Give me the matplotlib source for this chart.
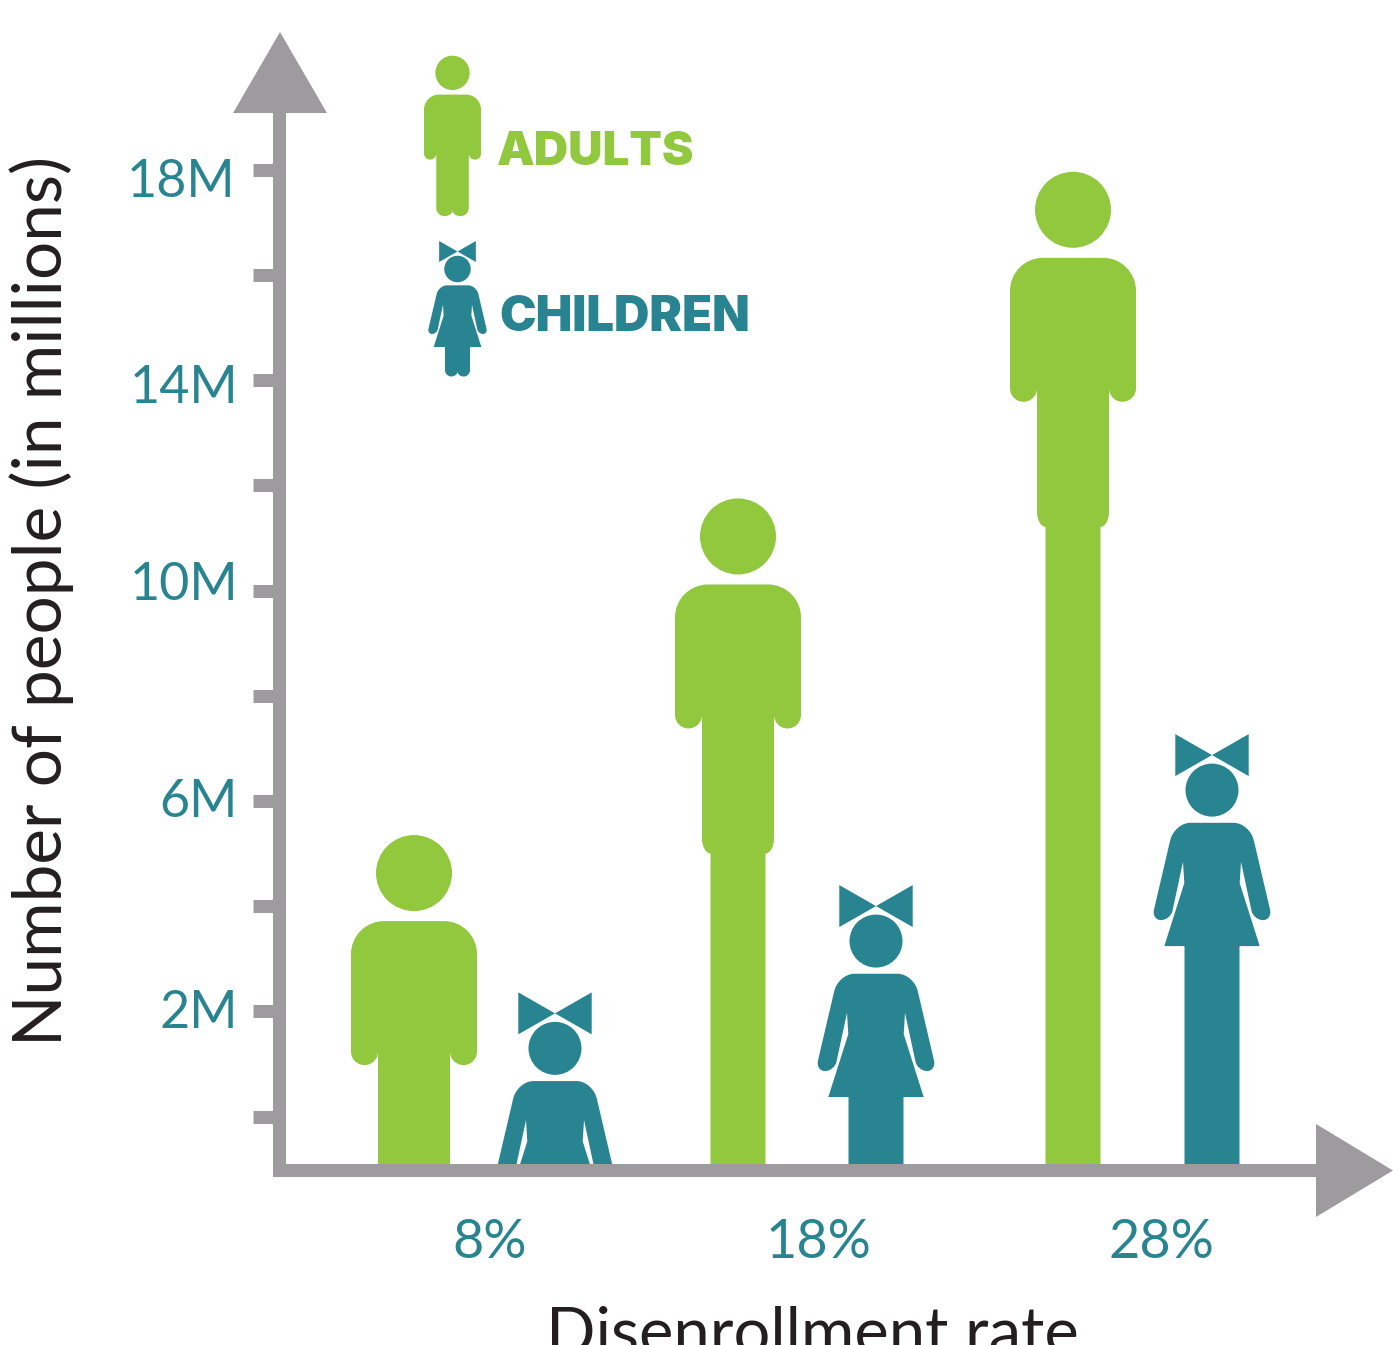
import matplotlib
matplotlib.use('Agg')
import matplotlib.pyplot as plt
from matplotlib.path import Path
from matplotlib.patches import PathPatch, Polygon
from matplotlib.transforms import Affine2D, ScaledTranslation

# values
rates = ['8%', '18%', '28%']
adult_tops = [5.35, 11.75, 17.96]      # top of head, millions
child_tops = [2.36, 4.40, 7.27]        # top of bow, millions
y_ticks = [0, 2, 4, 6, 8, 10, 12, 14, 16, 18]
y_labels = ['', '2M', '', '6M', '', '10M', '', '14M', '', '18M']

# layout, in image pixels
W, H = 1393, 1345
LEFT, BASE = 279, 1170
adult_x = [414, 738, 1073]
child_x = [555, 876, 1212]
rate_x = [490, 819, 1161]
label_nudge = {'2M': (-3, 2), '6M': (-3, 3), '10M': (-3, 10), '14M': (-3, -4), '18M': (-6, -8)}

GREEN = '#92C83E'
TEAL = '#298492'
GREY = '#9D9B9E'
DARK = '#231F20'
PX = 0.72  # points per pixel at dpi 100
FONT = 'Lato'
WEIGHT = 400

fig = plt.figure(figsize=(W / 100, H / 100), dpi=100)
ax = fig.add_axes([LEFT / W, 1 - BASE / H, (1316 - LEFT) / W, (BASE - 113) / H])
px_per_m = 52.6
ax.set_xlim(LEFT, 1316)
ax.set_ylim((1116.5 - BASE) / px_per_m, (1116.5 - 113) / px_per_m)


def m_from_px(y):
    return (1116.5 - y) / px_per_m


def rounded(points):
    # points: (x, y) or (x, y, r_in, r_out), right half, mirrored for the left
    pts = list(points)
    mirror = [(-p[0], p[1], p[3], p[2]) if len(p) == 4 else (-p[0], p[1]) for p in reversed(pts) if p[0] != 0]
    pts = pts + mirror
    k = 0.5523
    verts, codes = [], []
    n = len(pts)
    for i, p in enumerate(pts):
        x, y = p[0], p[1]
        if len(p) == 2:
            verts.append((x, y))
            codes.append(Path.LINETO)
            continue
        a, b = pts[i - 1], pts[(i + 1) % n]
        la = ((x - a[0]) ** 2 + (y - a[1]) ** 2) ** 0.5
        lb = ((b[0] - x) ** 2 + (b[1] - y) ** 2) ** 0.5
        ux, uy = (x - a[0]) / la, (y - a[1]) / la
        vx, vy = (b[0] - x) / lb, (b[1] - y) / lb
        r1, r2 = p[2], p[3]
        verts.append((x - ux * r1, y - uy * r1))
        codes.append(Path.LINETO)
        verts += [(x - ux * r1 * (1 - k), y - uy * r1 * (1 - k)),
                  (x + vx * r2 * (1 - k), y + vy * r2 * (1 - k)),
                  (x + vx * r2, y + vy * r2)]
        codes += [Path.CURVE4] * 3
    codes[0] = Path.MOVETO
    verts.append(verts[0])
    codes.append(Path.CLOSEPOLY)
    return Path(verts, codes)


def adult_path(feet=False):
    pts = [(0, 86), (63, 86, 33, 33), (63, 230, 13.5, 13.5), (36, 230, 13.5, 13.5), (36, 217)]
    if feet:
        pts += [(36, 355, 18, 18), (0.01, 355, 18, 13), (0, 342)]
    else:
        pts += [(36, 355, 15, 8.5), (27.5, 355), (27.5, 1400), (0, 1400)]
    return Path.make_compound_path(Path.circle((0, 38), 38), rounded(pts))


def child_path(feet=False):
    pts = [(0, 88.7), (37.7, 88.7, 16, 18), (60.5, 186, 11, 9.5), (41.5, 186, 9.5, 9.5),
           (29, 127.7), (27.7, 149), (47.7, 212)]
    if feet:
        pts += [(25, 212), (25, 271, 12.5, 12.5), (0.01, 271, 12.5, 10), (0, 261)]
    else:
        pts += [(27.5, 212), (27.5, 1400), (0, 1400)]
    bow_l = Path([(-36.7, 0), (0, 21), (-36.7, 42), (-36.7, 0)], closed=True)
    bow_r = Path([(36.7, 0), (0, 21), (36.7, 42), (36.7, 0)], closed=True)
    return Path.make_compound_path(bow_l, bow_r, Path.circle((0, 56), 26.5), rounded(pts))


def draw_person(path, x, top, color, scale=1.0, clip=True):
    # path is in pixels below the top of the figure; x and top are in data units
    tr = Affine2D().scale(scale, -scale / px_per_m).translate(x, top) + ax.transData
    patch = PathPatch(path, transform=tr, facecolor=color, edgecolor='none', linewidth=0, zorder=1)
    ax.add_patch(patch)
    patch.set_clip_on(clip)
    if clip:
        patch.set_clip_path(ax.patch)


for x, top in zip(adult_x, adult_tops):
    draw_person(adult_path(), x, top, GREEN)
for x, top in zip(child_x, child_tops):
    draw_person(child_path(), x, top, TEAL)

# legend figures
draw_person(adult_path(feet=True), 452.5, m_from_px(55.7), GREEN, scale=0.452, clip=False)
draw_person(child_path(feet=True), 457.5, m_from_px(241), TEAL, scale=0.5, clip=False)
ax.text(497, m_from_px(165), 'ADULTS', color=GREEN, fontsize=47.5 * PX, family='Inter',
        fontweight='black', va='baseline', ha='left')
ax.text(499, m_from_px(331), 'CHILDREN', color=TEAL, fontsize=49 * PX, family='Inter',
        fontweight='black', va='baseline', ha='left')

# axes
for side in ('top', 'right'):
    ax.spines[side].set_visible(False)
for side in ('left', 'bottom'):
    ax.spines[side].set_linewidth(13 * PX)
    ax.spines[side].set_color(GREY)

ax.set_yticks(y_ticks, y_labels)
ax.set_xticks(rate_x, rates)
ax.tick_params(axis='y', length=26 * PX, width=13 * PX, color=GREY, pad=12 * PX,
               labelsize=52 * PX, labelcolor=TEAL)
ax.tick_params(axis='x', length=0, pad=48 * PX, labelsize=54 * PX, labelcolor=TEAL)
for lab in ax.get_xticklabels() + ax.get_yticklabels():
    lab.set_fontfamily(FONT)
    lab.set_fontweight(WEIGHT)
for lab, text in zip(ax.get_yticklabels(), y_labels):
    if text in label_nudge:
        dx, dy = label_nudge[text]
        lab.set_transform(lab.get_transform() + ScaledTranslation(dx / 100, dy / 100, fig.dpi_scale_trans))

ax.set_ylabel('Number of people (in millions)', fontsize=67.5 * PX, family=FONT, fontweight=WEIGHT, color=DARK)
ax.yaxis.set_label_coords((74 - LEFT) / (1316 - LEFT), (BASE - 601) / (BASE - 113))
ax.set_xlabel('Disenrollment rate', fontsize=65 * PX, family=FONT, fontweight=WEIGHT, color=DARK)
ax.xaxis.set_label_coords((812 - LEFT) / (1316 - LEFT), -(1305 - BASE) / (BASE - 113))

# arrow heads
for tri in ([(280, 32), (233, 113), (327, 113)], [(1393, 1170.5), (1316, 1124), (1316, 1217)]):
    fig.add_artist(Polygon([(x / W, 1 - y / H) for x, y in tri], closed=True, transform=fig.transFigure,
                           facecolor=GREY, edgecolor='none'))

fig.savefig('out.png', dpi=100)
